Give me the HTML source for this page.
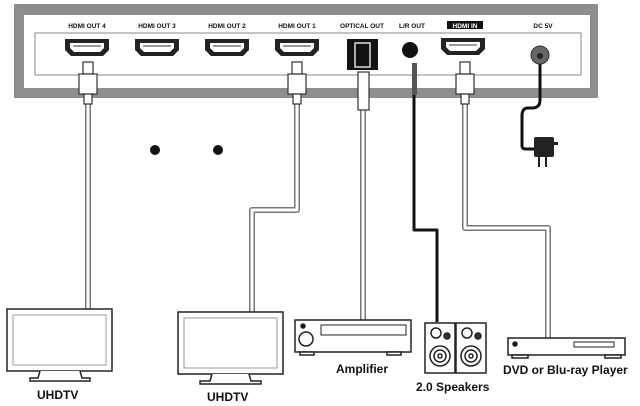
<!DOCTYPE html><html><head><style>body{margin:0;background:#fff}svg{display:block}text{font-family:"Liberation Sans",sans-serif;font-weight:bold}</style></head><body>
<svg width="640" height="406" viewBox="0 0 640 406">
<defs>
<g id="hdmi"><path d="M-22,-8 H22 V3 L16,9 H-16 L-22,3 Z" fill="#222"/><path d="M-17,-4 H17 V1 L13,5 H-13 L-17,1 Z" fill="#fff"/><path d="M-14,-1 H14" stroke="#999" stroke-width="2"/></g>
<g id="plug"><rect x="-5" y="0" width="10" height="12" fill="#fff" stroke="#333" stroke-width="1.2"/><rect x="-9" y="12" width="18" height="20" fill="#fff" stroke="#333" stroke-width="1.2"/><rect x="-4" y="32" width="8" height="10" fill="#fff" stroke="#333" stroke-width="1.2"/></g>
</defs>
<rect x="14" y="4" width="584" height="94" fill="#8e8e8e"/>
<rect x="24" y="15" width="566" height="73" fill="#fff"/>
<path d="M35,33 H581 V75 H35 Z" fill="#fff" stroke="#888" stroke-width="1"/>
<g font-size="6.5" text-anchor="middle" fill="#111">
<text x="87" y="28">HDMI OUT 4</text><text x="157" y="28">HDMI OUT 3</text><text x="227" y="28">HDMI OUT 2</text><text x="297" y="28">HDMI OUT 1</text><text x="362" y="28">OPTICAL OUT</text><text x="412" y="28">L/R OUT</text>
<rect x="447" y="21" width="36" height="8" fill="#111"/><text x="465" y="28" fill="#fff">HDMI IN</text><text x="543" y="28">DC 5V</text></g>
<use href="#hdmi" x="87" y="47"/><use href="#hdmi" x="157" y="47"/><use href="#hdmi" x="227" y="47"/><use href="#hdmi" x="297" y="47"/><use href="#hdmi" x="463" y="46"/>
<rect x="347" y="39" width="31" height="31" fill="#111"/><rect x="355" y="43" width="15" height="24" fill="none" stroke="#ddd" stroke-width="1.5"/>
<circle cx="410" cy="50" r="8" fill="#111"/>
<circle cx="540" cy="55" r="9" fill="#666" stroke="#333"/><circle cx="540" cy="56" r="3" fill="#222"/>
<g fill="none" stroke-linejoin="round">
<g stroke="#777" stroke-width="6"><path d="M88,100 V310"/><path d="M297,100 V210 H252 V313"/><path d="M363,100 V320"/><path d="M465,100 V228 H548 V338"/></g>
<g stroke="#fff" stroke-width="3"><path d="M88,100 V310"/><path d="M297,100 V210 H252 V313"/><path d="M363,100 V320"/><path d="M465,100 V228 H548 V338"/></g>
<path d="M414,78 V230 H437 V322" stroke="#111" stroke-width="3"/>
<path d="M540,64 V100 Q540,108 532,108 H528 Q522,108 522,116 V146 Q522,149 526,149 H534" stroke="#111" stroke-width="3"/>
</g>
<use href="#plug" x="88" y="62"/><use href="#plug" x="297" y="62"/><use href="#plug" x="465" y="62"/>
<rect x="358" y="72" width="11" height="38" fill="#fff" stroke="#333" stroke-width="1.2"/>
<rect x="412" y="63" width="5" height="32" fill="#555"/>
<rect x="534" y="137" width="20" height="20" rx="2" fill="#222"/><rect x="554" y="142" width="4" height="3" fill="#222"/><rect x="538" y="157" width="2" height="10" fill="#222"/><rect x="545" y="157" width="2" height="10" fill="#222"/>
<circle cx="155" cy="150" r="5" fill="#111"/><circle cx="218" cy="150" r="5" fill="#111"/>
<g fill="#fff" stroke="#222" stroke-width="1.5">
<rect x="7" y="309" width="105" height="62"/><rect x="13" y="315" width="93" height="50" stroke="#999" stroke-width="1"/><path d="M40,371 L38,378 H30 V381 H90 V378 H82 L80,371"/>
<rect x="178" y="312" width="105" height="62"/><rect x="184" y="318" width="93" height="50" stroke="#999" stroke-width="1"/><path d="M212,374 L210,381 H200 V384 H261 V381 H251 L249,374"/>
<rect x="295" y="320" width="116" height="32"/><rect x="321" y="325" width="85" height="10" stroke-width="1"/><circle cx="306" cy="339" r="7"/><circle cx="303" cy="326" r="2" fill="#111"/><rect x="300" y="352" width="14" height="3"/><rect x="387" y="352" width="14" height="3"/>
<rect x="425" y="323" width="30" height="50"/><rect x="456" y="323" width="30" height="50"/>
<circle cx="436" cy="333" r="5"/><circle cx="447" cy="336" r="3" fill="#333"/><circle cx="440" cy="356" r="10"/><circle cx="440" cy="356" r="6"/><circle cx="440" cy="356" r="2"/>
<circle cx="467" cy="333" r="5"/><circle cx="478" cy="336" r="3" fill="#333"/><circle cx="471" cy="356" r="10"/><circle cx="471" cy="356" r="6"/><circle cx="471" cy="356" r="2"/>
<rect x="508" y="338" width="117" height="17"/><rect x="574" y="342" width="40" height="5" stroke-width="1"/><circle cx="515" cy="344" r="2" fill="#111"/><rect x="512" y="355" width="16" height="3"/><rect x="605" y="355" width="16" height="3"/>
</g>
<g font-size="12" fill="#111">
<text x="37" y="399">UHDTV</text><text x="207" y="401">UHDTV</text><text x="336" y="373">Amplifier</text><text x="416" y="391">2.0 Speakers</text><text x="503" y="374">DVD or Blu-ray Player</text></g>
</svg></body></html>
